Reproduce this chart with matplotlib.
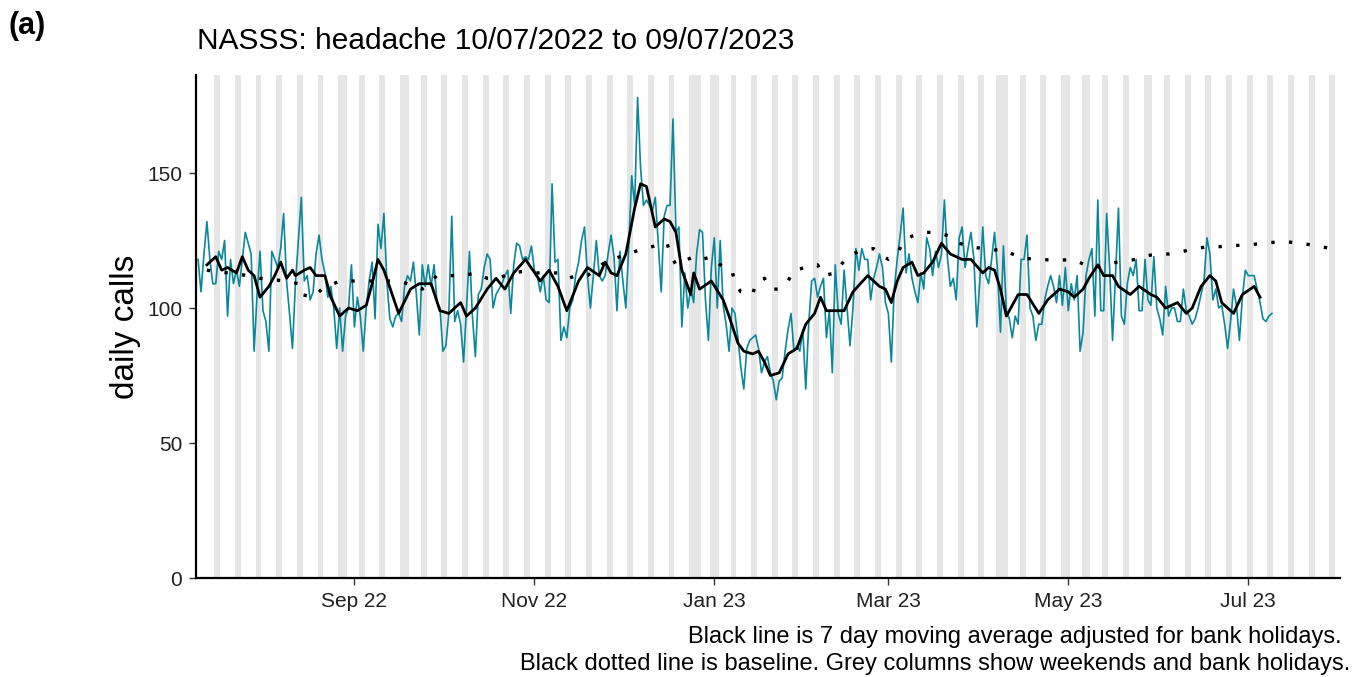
import numpy as np
import pandas as pd
import matplotlib
matplotlib.use("Agg")
import matplotlib.pyplot as plt
import matplotlib.dates as mdates

plt.rcParams['font.family'] = ['Liberation Sans', 'DejaVu Sans']

# daily calls from 10/07/2022, one value per day
daily_calls = [
    118, 106, 120, 132, 118, 109, 109, 121, 118, 125, 97, 118, 109, 114, 108, 118, 128, 124, 120, 84,
    105, 121, 99, 95, 84, 121, 118, 115, 122, 135, 110, 98, 85, 109, 125, 141, 110, 112, 103, 106,
    120, 127, 118, 113, 104, 108, 100, 85, 100, 84, 97, 100, 116, 93, 104, 97, 84, 100, 110, 117,
    96, 131, 122, 135, 110, 96, 93, 97, 98, 95, 108, 112, 110, 117, 105, 90, 116, 108, 116, 108,
    116, 102, 100, 84, 86, 98, 134, 95, 99, 94, 80, 100, 121, 97, 82, 105, 107, 115, 120, 118,
    100, 105, 107, 109, 112, 114, 98, 116, 124, 123, 118, 119, 118, 123, 114, 112, 106, 112, 103,
    102, 146, 117, 118, 88, 93, 89, 100, 103, 112, 117, 125, 130, 112, 100, 112, 125, 112, 110, 112,
    120, 127, 119, 99, 121, 110, 100, 123, 149, 138, 178, 152, 138, 140, 138, 136, 141, 124, 106, 134,
    138, 138, 170, 128, 130, 93, 113, 100, 107, 102, 120, 129, 128, 103, 88, 115, 126, 100, 125, 101,
    94, 84, 100, 98, 89, 78, 70, 85, 88, 89, 90, 85, 76, 80, 82, 76, 73, 66, 73, 74,
    84, 92, 98, 84, 86, 84, 92, 70, 94, 110, 111, 104, 108, 111, 89, 99, 76, 116, 98, 94,
    114, 100, 86, 100, 122, 114, 122, 118, 118, 103, 111, 115, 120, 115, 102, 98, 80, 107, 118,
    127, 137, 113, 120, 111, 106, 102, 113, 107, 126, 122, 112, 121, 115, 120, 140, 119, 108, 111, 103,
    126, 130, 115, 122, 128, 118, 93, 110, 130, 112, 109, 118, 128, 114, 91, 123, 99, 96, 89, 97,
    94, 118, 118, 127, 100, 97, 88, 94, 94, 103, 108, 112, 108, 102, 112, 101, 115, 99, 109, 103,
    112, 84, 91, 112, 118, 122, 97, 140, 99, 99, 135, 115, 88, 112, 137, 97, 94, 109, 115, 112,
    118, 99, 99, 118, 103, 101, 119, 100, 96, 90, 108, 97, 100, 100, 95, 95, 107, 99, 97, 94,
    96, 100, 105, 110, 126, 120, 103, 107, 100, 101, 94, 85, 95, 107, 101, 88, 104, 114, 112, 112,
    112, 107, 102, 96, 95, 97, 98,
]

# 7 day moving average (day offset from 10/07/2022, value)
ma_days = [3, 6, 8, 10, 13, 15, 17, 19, 21, 24, 26, 28, 30, 32, 33, 36, 38, 40, 43, 45,
           48, 51, 54, 57, 59, 61, 63, 68, 72, 75, 79, 82, 85, 89, 91, 94, 98, 101, 104, 107,
           111, 116, 119, 122, 125, 129, 132, 136, 138, 140, 142, 145, 148, 150, 152, 155, 158, 160, 162, 164,
           167, 168, 170, 174, 178, 180, 183, 185, 188, 190, 192, 194, 197, 200, 203, 206, 209, 211, 213, 216,
           219, 222, 227, 231, 233, 235, 237, 239, 242, 244, 246, 249, 252, 255, 259, 262, 266, 268, 270, 272,
           274, 278, 281, 285, 288, 292, 295, 297, 300, 302, 305, 307, 310, 312, 316, 319, 323, 325, 328, 332,
           335, 337, 340, 343, 345, 347, 351, 354, 358, 360]
ma_vals = [116, 119, 114, 115, 113, 119, 114, 112, 104, 108, 112, 117, 111, 114, 112, 114, 115, 112, 112, 104,
           97, 100, 99, 101, 109, 118, 114, 98, 107, 109, 109, 99, 98, 102, 97, 100, 107, 111, 107, 113,
           118, 110, 114, 108, 99, 110, 115, 112, 117, 113, 112, 120, 137, 146, 145, 130, 133, 132, 128, 114,
           105, 113, 107, 110, 103, 97, 87, 84, 83, 84, 80, 75, 76, 83, 85, 94, 98, 104, 99, 99,
           99, 106, 112, 108, 107, 102, 110, 115, 117, 112, 113, 117, 124, 120, 118, 118, 113, 115, 114, 107,
           97, 105, 105, 98, 103, 107, 106, 104, 107, 111, 116, 112, 112, 108, 105, 108, 105, 104, 100, 102,
           98, 100, 108, 112, 110, 102, 98, 105, 108, 104]

# baseline (day offset, value)
base_days = [3, 17, 21, 25, 30, 34, 35, 39, 42, 48, 52, 56, 60, 68, 71, 76, 81, 85, 90, 94,
             98, 102, 106, 110, 115, 122, 125, 129, 132, 138, 143, 147, 151, 155, 159, 160, 162, 168, 171, 174,
             177, 181, 182, 184, 188, 189, 192, 194, 197, 200, 202, 206, 210, 212, 216, 218, 220, 224, 229, 231,
             234, 237, 239, 242, 246, 250, 255, 258, 262, 266, 270, 273, 276, 280, 285, 289, 293, 297, 300, 305,
             309, 313, 318, 321, 325, 329, 333, 337, 342, 346, 350, 355, 359, 363, 368, 372, 376, 381, 385]
base_vals = [114, 112, 111, 110.5, 110, 109, 105, 104, 107, 110, 110, 110, 110, 110, 109, 107, 112, 112, 112, 113,
             111, 111, 113, 113.5, 113, 113, 111, 112, 112, 117, 119, 120.5, 122, 123, 124, 120, 116, 119, 118, 119,
             116, 114, 109, 106, 105, 109, 111, 107, 107, 110, 114, 115, 116, 112, 113, 116, 119, 121, 122, 120,
             118, 120, 124.5, 126.6, 128, 128, 126.6, 124, 122.7, 122, 121.5, 121.7, 120, 118.4, 118, 117.8, 117.8, 117.8, 116.3, 115.3,
             116.5, 117.2, 118, 119.2, 120, 120, 120.8, 121.7, 122.7, 122.7, 123.1, 123.3, 123.7, 124.2, 124.6, 124.2, 123.6, 122.7, 121.7]

bank_holidays = ['2022-08-29', '2022-09-19', '2022-12-26', '2022-12-27', '2023-01-02',
                 '2023-04-07', '2023-04-10', '2023-05-01', '2023-05-08', '2023-05-29']

tick_dates = ['2022-09-01', '2022-11-01', '2023-01-01', '2023-03-01', '2023-05-01', '2023-07-01']

start = pd.Timestamp('2022-07-10')
x0 = mdates.date2num(start)
day_x = x0 + np.arange(len(daily_calls))
ma_x = x0 + np.array(ma_days)
base_x = x0 + np.array(base_days)

fig = plt.figure(figsize=(13.52, 6.77), dpi=100)
ax = fig.add_axes([196 / 1352, 1 - 578 / 677, (1340 - 196) / 1352, (578 - 75) / 677])

# grey columns: weekends and bank holidays
cal = pd.date_range('2022-07-11', '2023-08-05')
shade = cal[(cal.dayofweek >= 5) | cal.isin(pd.to_datetime(bank_holidays))]
for d in mdates.date2num(shade):
    ax.axvspan(d - 0.5, d + 0.5, color='#e6e6e6', lw=0, zorder=0)

ax.plot(day_x, daily_calls, color='#0b8799', lw=1.2, zorder=2)
ax.plot(base_x, base_vals, color='black', lw=2.4, linestyle=(0, (1.0, 4.3)),
        dash_capstyle='butt', zorder=3)
ax.plot(ma_x, ma_vals, color='black', lw=2.0, zorder=4)

ax.set_xlim(x0 - 0.7, x0 + 387.1)
ax.set_ylim(0, 186.3)
ax.set_yticks([0, 50, 100, 150])
ax.set_xticks(mdates.date2num(pd.to_datetime(tick_dates)))
ax.xaxis.set_major_formatter(mdates.DateFormatter('%b %y'))

for s in ['top', 'right']:
    ax.spines[s].set_visible(False)
for s in ['left', 'bottom']:
    ax.spines[s].set_linewidth(1.6)
ax.tick_params(length=5, width=1, color='#333333', labelsize=15, labelcolor='#222222', pad=5)

ax.set_ylabel('daily calls', fontsize=24, labelpad=4)
fig.text(197 / 1352, 1 - 41 / 677, 'NASSS: headache 10/07/2022 to 09/07/2023',
         fontsize=21.5, va='center', ha='left')
fig.text(9 / 1352, 1 - 26 / 677, '(a)', fontsize=22, fontweight='bold', va='center', ha='left')
fig.text(1342 / 1352, 1 - 637 / 677, 'Black line is 7 day moving average adjusted for bank holidays.',
         fontsize=17, ha='right', va='center')
fig.text(1350 / 1352, 1 - 664 / 677,
         'Black dotted line is baseline. Grey columns show weekends and bank holidays.',
         fontsize=17, ha='right', va='center')

fig.savefig('out.png', dpi=100)
